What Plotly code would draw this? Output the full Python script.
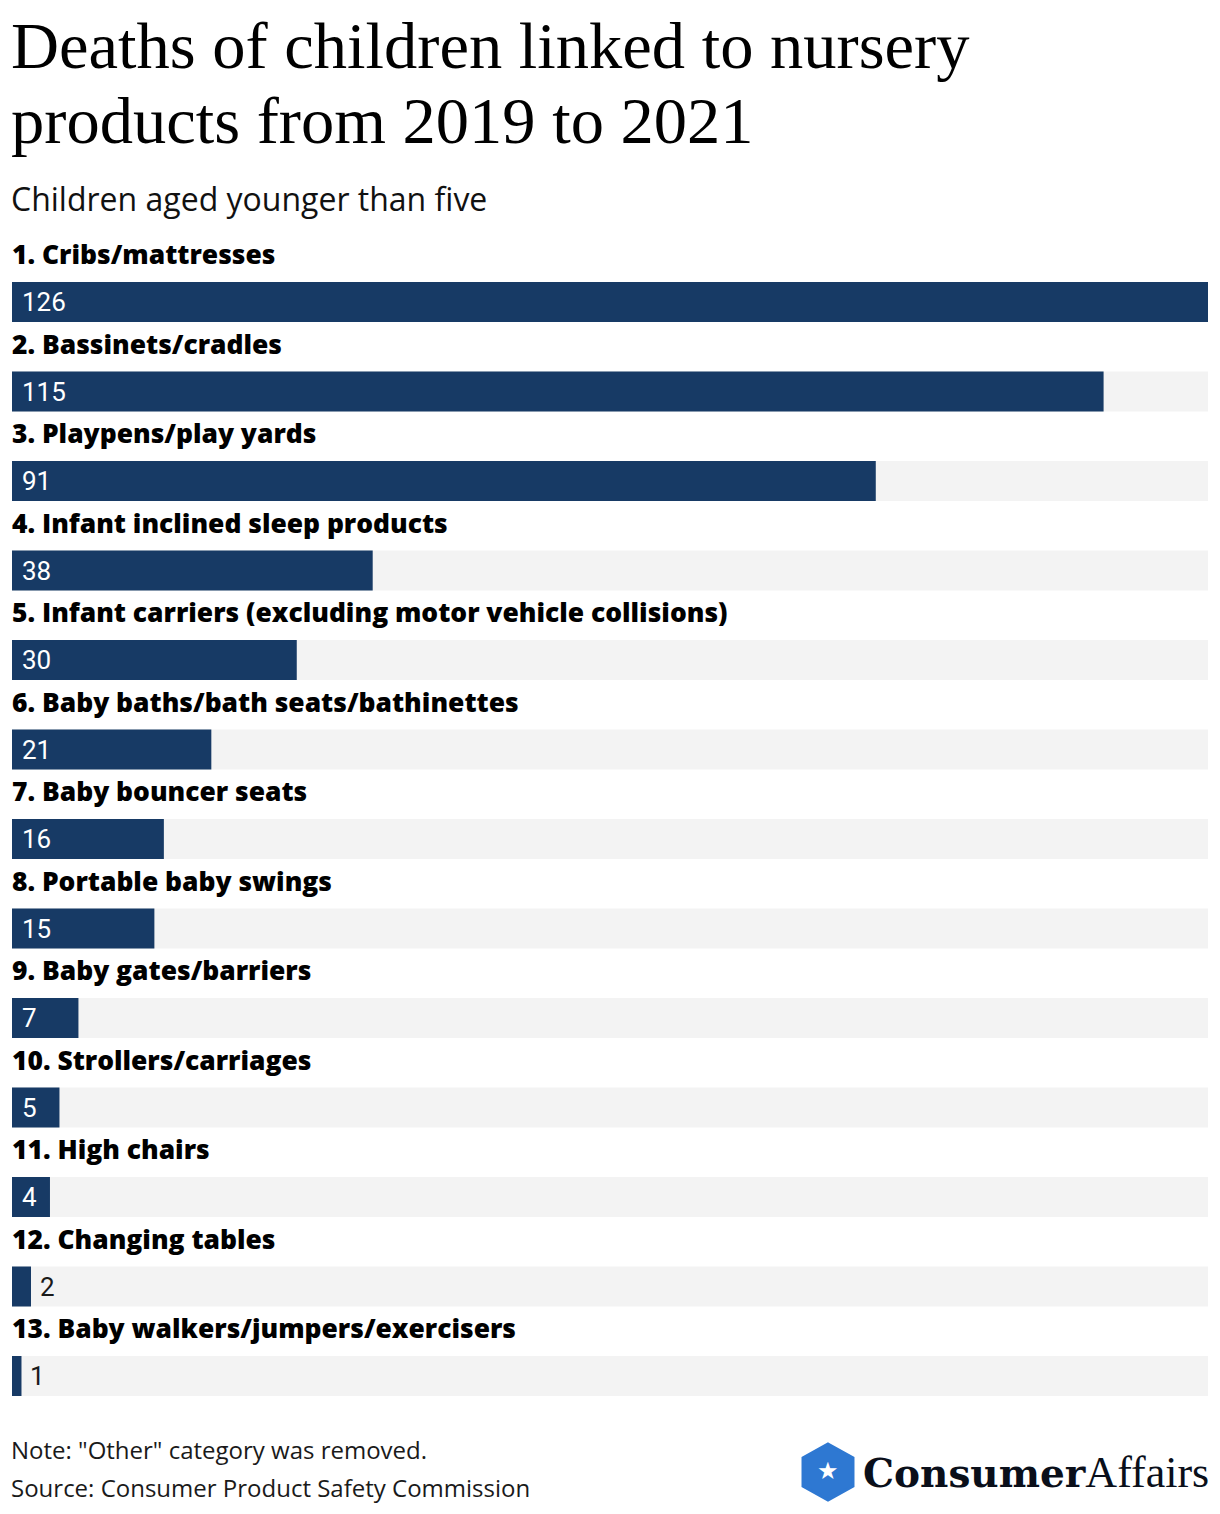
import plotly.graph_objects as go

# ---- data ----
categories = [
    "Cribs/mattresses",
    "Bassinets/cradles",
    "Playpens/play yards",
    "Infant inclined sleep products",
    "Infant carriers (excluding motor vehicle collisions)",
    "Baby baths/bath seats/bathinettes",
    "Baby bouncer seats",
    "Portable baby swings",
    "Baby gates/barriers",
    "Strollers/carriages",
    "High chairs",
    "Changing tables",
    "Baby walkers/jumpers/exercisers",
]
deaths = [126, 115, 91, 38, 30, 21, 16, 15, 7, 5, 4, 2, 1]

title_lines = ["Deaths of children linked to nursery", "products from 2019 to 2021"]
subtitle = "Children aged younger than five"
note = 'Note: "Other" category was removed.'
source = "Source: Consumer Product Safety Commission"

# ---- layout constants ----
W, H = 1220, 1514
ROW = 89.5        # px between bar rows
FIRST = 302       # px centre of first bar
BAR_H = 40        # bar thickness px
X0, X1 = 12, 1208
BAR_COLOR = "#173a65"
TRACK_COLOR = "#f3f3f3"
SANS = "'Open Sans', Roboto, sans-serif"
NUM = "Roboto, 'Open Sans', sans-serif"
SERIF = "'Liberation Serif', 'DejaVu Serif', serif"


def py(p):
    return 1 - p / H


def pxx(p):
    return p / W


rows = list(range(len(categories)))
x_max = max(deaths)

fig = go.Figure()
fig.add_trace(go.Bar(
    y=rows, x=[x_max] * len(rows), orientation="h",
    marker=dict(color=TRACK_COLOR, line=dict(width=0)),
    width=BAR_H / ROW, hoverinfo="skip", showlegend=False,
))
fig.add_trace(go.Bar(
    y=rows, x=deaths, orientation="h",
    marker=dict(color=BAR_COLOR, line=dict(width=0)),
    width=BAR_H / ROW, showlegend=False,
))

ann = []
for i, (c, v) in enumerate(zip(categories, deaths)):
    ann.append(dict(
        x=0, xref="x", y=i, yref="y", yshift=48, xshift=-2,
        text=f"{i + 1}. {c}", showarrow=False,
        xanchor="left", yanchor="middle",
        font=dict(family=SANS, size=26.4, color="#000000", weight=800),
    ))
    inside = v >= 4
    ann.append(dict(
        x=0 if inside else v, xref="x", y=i, yref="y",
        xshift=8 if inside else 7,
        text=str(v), showarrow=False,
        xanchor="left", yanchor="middle",
        font=dict(family=NUM, size=26, color="#ffffff" if inside else "#1a1a1a"),
    ))

# title / subtitle
ann.append(dict(x=pxx(9), xref="paper", y=py(46), yref="paper", text=title_lines[0],
                showarrow=False, xanchor="left", yanchor="middle",
                font=dict(family=SERIF, size=66.5, color="#000000")))
ann.append(dict(x=pxx(9), xref="paper", y=py(121), yref="paper", text=title_lines[1],
                showarrow=False, xanchor="left", yanchor="middle",
                font=dict(family=SERIF, size=66.5, color="#000000")))
ann.append(dict(x=pxx(9), xref="paper", y=py(199), yref="paper", text=subtitle,
                showarrow=False, xanchor="left", yanchor="middle",
                font=dict(family=SANS, size=32, color="#111111")))
# footer
ann.append(dict(x=pxx(9), xref="paper", y=py(1449), yref="paper", text=note,
                showarrow=False, xanchor="left", yanchor="middle",
                font=dict(family=SANS, size=24, color="#1a1a1a")))
ann.append(dict(x=pxx(9), xref="paper", y=py(1487), yref="paper", text=source,
                showarrow=False, xanchor="left", yanchor="middle",
                font=dict(family=SANS, size=24, color="#1a1a1a")))
# logo text
ann.append(dict(x=pxx(1211), xref="paper", y=py(1472), yref="paper",
                text="<span style='font-family:\"DejaVu Serif\"; font-weight:bold; font-size:39px'>Consumer</span>"
                     "<span style='font-family:\"Liberation Serif\"; font-size:44px'>Affairs</span>",
                showarrow=False, xanchor="right", yanchor="middle",
                font=dict(family=SERIF, size=44, color="#0a0f1a")))
ann.append(dict(x=pxx(828), xref="paper", y=py(1471), yref="paper", text="★",
                showarrow=False, xanchor="center", yanchor="middle",
                font=dict(family="DejaVu Sans", size=24, color="#ffffff")))

# hexagon logo mark
cx, cy, hw, hh = 828, 1472, 25, 28
pts = [(cx, cy - hh), (cx + hw, cy - hh / 2), (cx + hw, cy + hh / 2),
       (cx, cy + hh), (cx - hw, cy + hh / 2), (cx - hw, cy - hh / 2)]
path = "M " + " L ".join(f"{pxx(a):.5f},{py(b):.5f}" for a, b in pts) + " Z"
shapes = [dict(type="path", xref="paper", yref="paper", path=path,
               fillcolor="#2e78d2", line=dict(color="#2e78d2", width=3), layer="below")]

fig.update_layout(
    width=W, height=H,
    margin=dict(l=0, r=0, t=0, b=0),
    paper_bgcolor="#ffffff", plot_bgcolor="#ffffff",
    barmode="overlay",
    xaxis=dict(range=[0, x_max], domain=[X0 / W, X1 / W], visible=False, fixedrange=True),
    yaxis=dict(range=[(H - FIRST) / ROW, -FIRST / ROW], domain=[0, 1], visible=False, fixedrange=True),
    annotations=ann,
    shapes=shapes,
    showlegend=False,
)

fig.write_html("out.html", config={"displayModeBar": False},
               post_script="document.body.style.margin='0';document.body.style.overflow='hidden';")
